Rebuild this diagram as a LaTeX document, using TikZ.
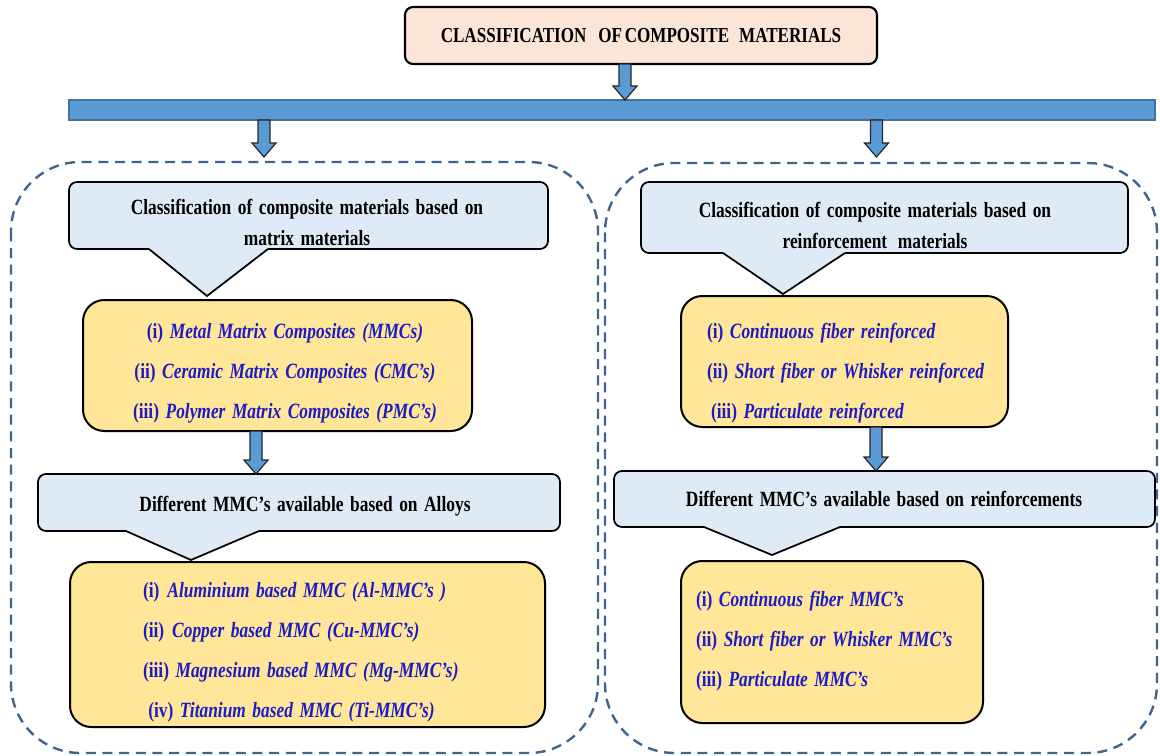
\documentclass[tikz,border=0pt]{standalone}
\usepackage{fontspec}
\setmainfont{Liberation Serif}[FakeStretch=0.80, WordSpace=1.5]
\usetikzlibrary{calc}
\definecolor{titlefill}{HTML}{FBE5D6}
\definecolor{callfill}{HTML}{DEEBF7}
\definecolor{yelfill}{HTML}{FFE699}
\definecolor{barfill}{HTML}{5B9BD5}
\definecolor{barline}{HTML}{41719C}
\definecolor{dashcol}{HTML}{41648C}
\definecolor{itemblue}{RGB}{28,28,196}
\newcommand\blkarrow[2]{\filldraw[blockarrow] let \p1=#1, \p2=#2 in
  (\x2-4.5pt,\y1) -- (\x2-4.5pt,\y2+10.5pt) -- (\x2-9pt,\y2+10.5pt) -- (\x2,\y2)
  -- (\x2+9pt,\y2+10.5pt) -- (\x2+4.5pt,\y2+10.5pt) -- (\x2+4.5pt,\y1) -- cycle;}
\newcommand\callptr[5]{%
  \fill[callfill] (#1,#3) -- (#4,#5) -- (#2,#3) -- (#2,#3-2.5) -- (#1,#3-2.5) -- cycle;
  \draw[callline] (#1,#3) -- (#4,#5) -- (#2,#3);}
\newcommand\itemline[2]{#1\textit{#2}}
\begin{document}
\begin{tikzpicture}[x=0.75pt,y=-0.75pt,
  every node/.style={inner sep=0pt, outer sep=0pt},
  titlebox/.style={rectangle, draw=black, line width=1.6pt, fill=titlefill, rounded corners=6pt,
    font=\fontsize{16pt}{18pt}\selectfont\bfseries},
  barbox/.style={rectangle, draw=barline, line width=0.8pt, fill=barfill},
  callbox/.style={rectangle, draw=black, line width=1.3pt, fill=callfill, rounded corners=6pt},
  yelbox/.style={rectangle, draw=black, line width=1.5pt, fill=yelfill, rounded corners=16pt},
  callline/.style={draw=black, line width=1.3pt, line join=miter},
  container/.style={draw=dashcol, line width=1.8pt, dash pattern=on 7.5pt off 5pt, rounded corners=52pt},
  blockarrow/.style={draw=black!85, line width=0.9pt, fill=barfill, line join=miter},
  headtxt/.style={font=\fontsize{16.3pt}{23.25pt}\selectfont\bfseries, align=center},
  itemtxt/.style={font=\fontsize{16.3pt}{30pt}\selectfont\bfseries, text=itemblue}
]
\useasboundingbox (0,0) rectangle (1160,756);

% dashed containers
\draw[container] (11,162) rectangle (598,753);
\draw[container] (605,163) rectangle (1157,753);

% title and bar
\node[titlebox, minimum width=354pt, minimum height=42.75pt] (title) at (641,35.5)
  {\raisebox{-3pt}{CLASSIFICATION\hspace{9pt}OF\hspace{2pt}COMPOSITE\hspace{7.5pt}MATERIALS}};
\node[barbox, minimum width=814.5pt, minimum height=15pt] (bar) at (612,110) {};

% left column
\node[callbox, minimum width=359.25pt, minimum height=50.25pt] (lc1) at (308.5,215.5) {};
\callptr{149}{268}{249}{207}{296}
\node[headtxt] (lc1t) at (307,222) {Classification of composite materials based on\\ matrix materials};

\node[yelbox, minimum width=291.75pt, minimum height=98.25pt] (lb1) at (277.5,365.5) {};
\node[itemtxt, align=center] (lb1t) at (285,373) {%
  \itemline{(i) }{Metal Matrix Composites (MMCs)}\\
  \itemline{(ii) }{Ceramic Matrix Composites (CMC’s)}\\
  \itemline{(iii) }{Polymer Matrix Composites (PMC’s)}};

\node[callbox, minimum width=391.5pt, minimum height=42.75pt] (lc2) at (299,502.5) {};
\callptr{126}{259}{531}{191}{560}
\node[headtxt] (lc2t) at (305,506) {Different MMC’s available based on Alloys};

\node[yelbox, minimum width=356.25pt, minimum height=123.75pt] (lb2) at (307.5,644.5) {};
\node[itemtxt, align=left, anchor=west] (lb2t) at (143,652) {%
  \itemline{(i)\hspace{6pt}}{Aluminium based MMC (Al-MMC’s )}\\
  \itemline{(ii)\hspace{6pt}}{Copper based MMC (Cu-MMC’s)}\\
  \itemline{(iii) }{Magnesium based MMC (Mg-MMC’s)}\\
  \hspace*{4pt}\itemline{(iv) }{Titanium based MMC (Ti-MMC’s)}};

% right column
\node[callbox, minimum width=365.25pt, minimum height=53.25pt] (rc1) at (884.5,217.5) {};
\callptr{723}{845}{253}{783}{294}
\node[headtxt] (rc1t) at (875,225.5) {Classification of composite materials based on\\ reinforcement\hspace{8pt}materials};

\node[yelbox, minimum width=245.25pt, minimum height=98.25pt] (rb1) at (844.5,361.5) {};
\node[itemtxt, align=left, anchor=west] (rb1t) at (707,373) {%
  \itemline{(i) }{Continuous fiber reinforced}\\
  \itemline{(ii) }{Short fiber or Whisker reinforced}\\
  \hspace*{3pt}\itemline{(iii) }{Particulate reinforced}};

\node[callbox, minimum width=405.75pt, minimum height=42pt] (rc2) at (884.5,499) {};
\callptr{704}{840}{527}{772}{555}
\node[headtxt] (rc2t) at (884,499) {Different MMC’s available based on reinforcements};

\node[yelbox, minimum width=226.5pt, minimum height=121.5pt] (rb2) at (832,642) {};
\node[itemtxt, align=left, anchor=west] (rb2t) at (696,641.5) {%
  \itemline{(i) }{Continuous fiber MMC’s}\\
  \itemline{(ii) }{Short fiber or Whisker MMC’s}\\
  \itemline{(iii) }{Particulate MMC’s}};

% block arrows
\coordinate (la) at (264,157);
\coordinate (ra) at (876.5,157);
\coordinate (mx) at (625,0);
\coordinate (lx) at (256,0);
\coordinate (rx) at (876,0);
\blkarrow{(title.south -| mx)}{(bar.north -| mx)}
\blkarrow{(bar.south -| la)}{(la)}
\blkarrow{(bar.south -| ra)}{(ra)}
\blkarrow{(lb1.south -| lx)}{(lc2.north -| lx)}
\blkarrow{(rb1.south -| rx)}{(rc2.north -| rx)}
\end{tikzpicture}
\end{document}
